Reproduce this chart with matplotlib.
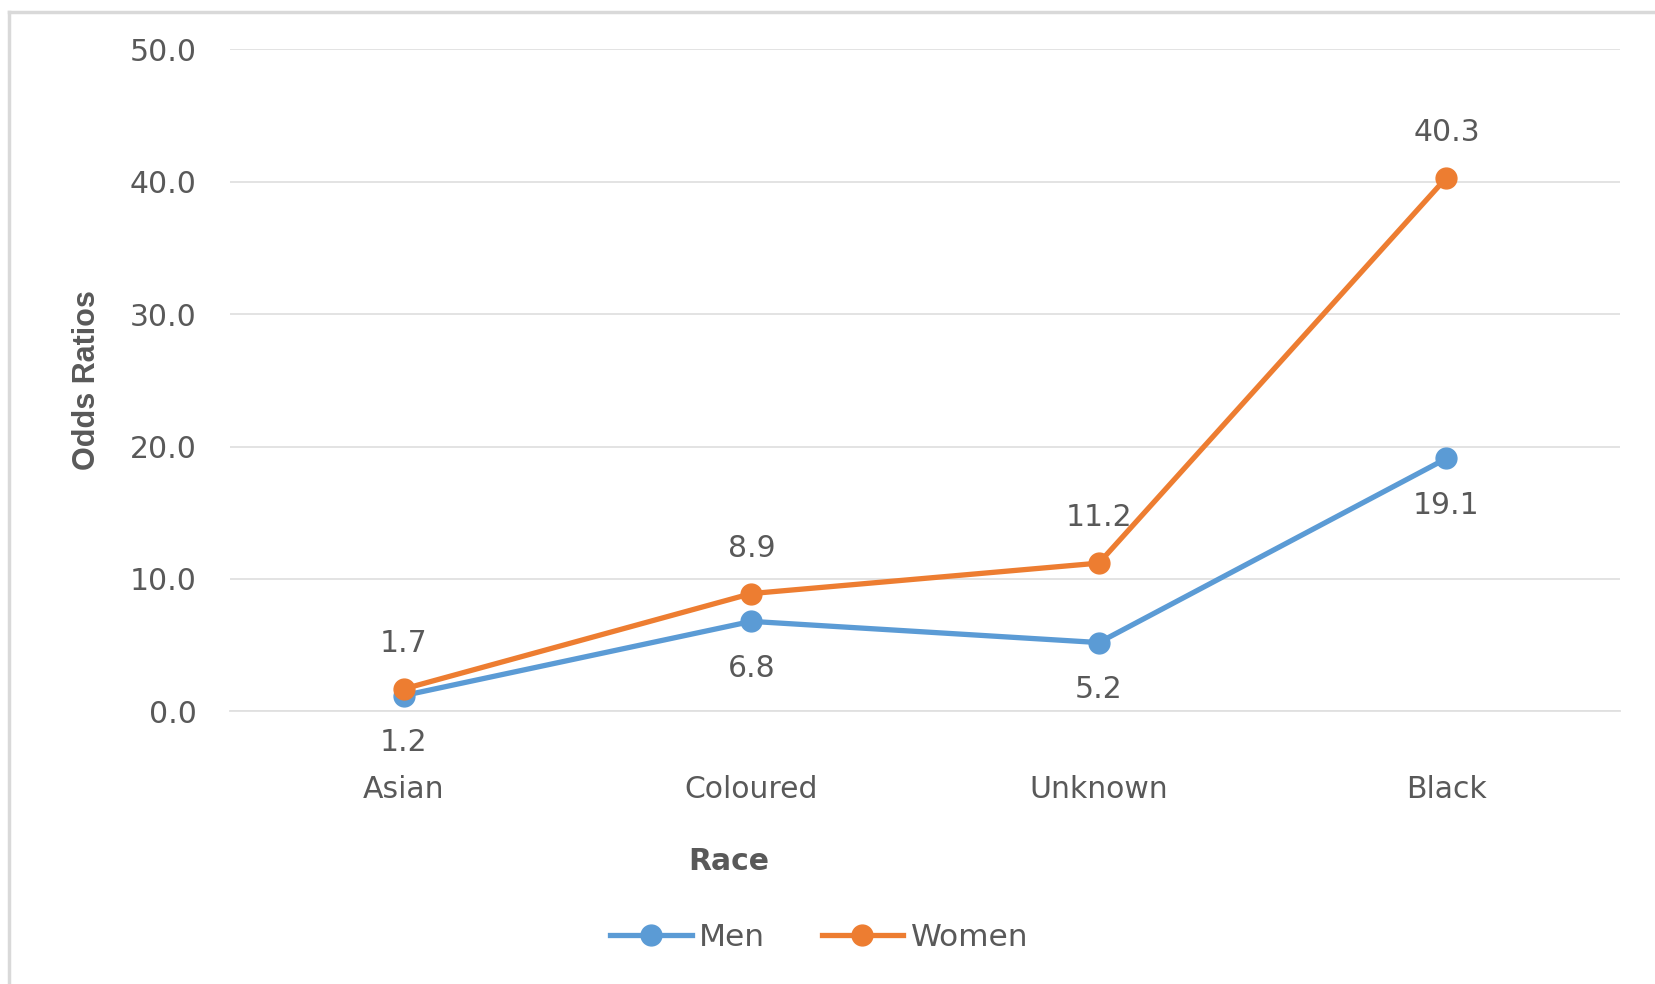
import matplotlib
matplotlib.use("Agg")
import matplotlib.pyplot as plt
from matplotlib.lines import Line2D

races = ["Asian", "Coloured", "Unknown", "Black"]
men = [1.2, 6.8, 5.2, 19.1]
women = [1.7, 8.9, 11.2, 40.3]
y_ticks = [0, 10, 20, 30, 40, 50]

blue = "#5B9BD5"
orange = "#ED7D31"
txt = "#595959"

plt.rcParams['font.family'] = ['DejaVu Sans']

fig = plt.figure(figsize=(16.55, 9.84), dpi=100)
ax = fig.add_axes([0.139, 0.277, 0.840, 0.673])

x = list(range(len(races)))
ax.plot(x, men, color=blue, lw=3.8, marker='o', ms=15, label='Men', solid_capstyle='round')
ax.plot(x, women, color=orange, lw=3.8, marker='o', ms=15, label='Women', solid_capstyle='round')

for xi, v in zip(x, men):
    ax.annotate(f"{v:.1f}", (xi, v), xytext=(0, -34), textcoords='offset points',
                ha='center', va='center', fontsize=21.5, color=txt)
for xi, v in zip(x, women):
    ax.annotate(f"{v:.1f}", (xi, v), xytext=(0, 32.5), textcoords='offset points',
                ha='center', va='center', fontsize=21.5, color=txt)

ax.set_xlim(-0.5, 3.5)
ax.set_ylim(0, 50)
ax.set_yticks(y_ticks)
ax.set_yticklabels([f"{t:.1f}" for t in y_ticks])
ax.set_xticks(x)
ax.set_xticklabels(races)
ax.tick_params(axis='y', length=0, pad=24, labelsize=21.5, labelcolor=txt)
ax.tick_params(axis='x', length=0, pad=46, labelsize=21.5, labelcolor=txt)
ax.grid(axis='y', color='#E0E0E0', lw=1.3)
ax.set_axisbelow(True)
for s in ax.spines.values():
    s.set_visible(False)
ax.spines['bottom'].set_visible(True)
ax.spines['bottom'].set_color('#E0E0E0')
ax.spines['bottom'].set_linewidth(1.3)

ax.set_ylabel("Odds Ratios", fontsize=22, fontweight='bold', color=txt, family='Liberation Sans')
ax.yaxis.set_label_coords(-0.092, 0.5)
fig.text(729 / 1655, 1 - 861 / 984, "Race", fontsize=21.5, fontweight='bold', color=txt,
         ha='center', va='center')

handles = [Line2D([], [], color=blue, lw=3.8, marker='o', ms=15),
           Line2D([], [], color=orange, lw=3.8, marker='o', ms=15)]
fig.legend(handles, ["Men", "Women"], loc='center', bbox_to_anchor=(0.495, 1 - 937 / 984),
           ncol=2, frameon=False, fontsize=22.5, labelcolor=txt, handlelength=2.6,
           handletextpad=0.25, columnspacing=1.8)

# chart border from screenshot
fig.add_artist(Line2D([9 / 1655, 9 / 1655], [0, 1 - 12 / 984], color='#D9D9D9', lw=2.5,
                      transform=fig.transFigure))
fig.add_artist(Line2D([9 / 1655, 1], [1 - 12 / 984, 1 - 12 / 984], color='#D9D9D9', lw=2.5,
                      transform=fig.transFigure))

fig.savefig("out.png", dpi=100)
